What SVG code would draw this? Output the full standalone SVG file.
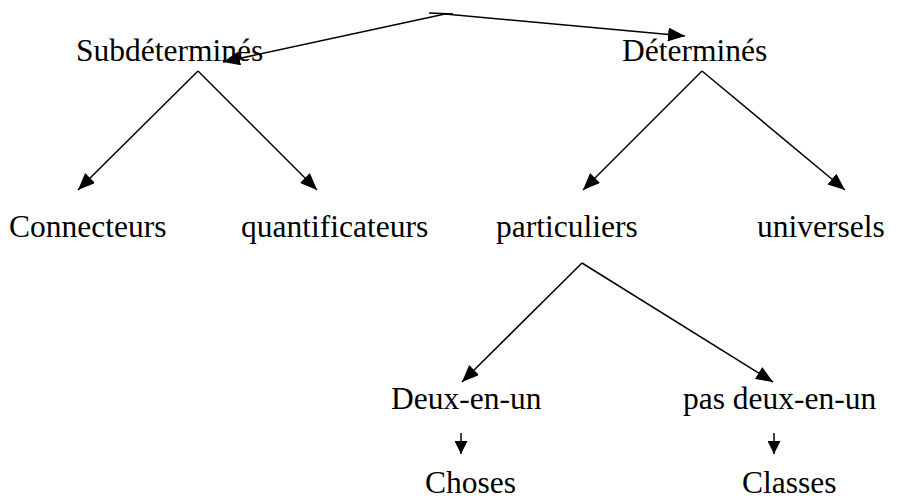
<svg xmlns="http://www.w3.org/2000/svg" width="898" height="500" viewBox="0 0 898 500">
<style>
text{font-family:"Liberation Serif","Times New Roman",serif;font-size:31.5px;fill:#000}
.c line{stroke:#000;stroke-width:1.5;fill:none}
</style>
<defs>
<marker id="ah" markerUnits="userSpaceOnUse" markerWidth="17" markerHeight="14" refX="17" refY="7" orient="auto"><path d="M0,0 L17,7 L0,14 Z" fill="#000"/></marker>
<marker id="as" markerUnits="userSpaceOnUse" markerWidth="13" markerHeight="13" refX="13" refY="6.5" orient="auto"><path d="M0,0 L13,6.5 L0,13 Z" fill="#000"/></marker>
</defs>
<rect width="898" height="500" fill="#fff"/>
<g class="c" id="connectors">
<line x1="429" y1="13" x2="453" y2="14"/>
<line x1="445" y1="14" x2="223" y2="62" marker-end="url(#ah)"/>
<line x1="445" y1="14" x2="685" y2="36" marker-end="url(#ah)"/>
<line x1="198" y1="71" x2="78" y2="190" marker-end="url(#ah)"/>
<line x1="198" y1="71" x2="317" y2="190" marker-end="url(#ah)"/>
<line x1="702" y1="71" x2="583" y2="190" marker-end="url(#ah)"/>
<line x1="702" y1="71" x2="845" y2="190" marker-end="url(#ah)"/>
<line x1="582" y1="263" x2="462" y2="382" marker-end="url(#ah)"/>
<line x1="582" y1="263" x2="773" y2="382" marker-end="url(#ah)"/>
<line x1="461" y1="433" x2="461" y2="454" marker-end="url(#as)"/>
<line x1="774" y1="433" x2="774" y2="454" marker-end="url(#as)"/>
</g>
<g id="subdetermines"><text x="76" y="61">Subdéterminés</text></g>
<g id="determines"><text x="622" y="61">Déterminés</text></g>
<g id="connecteurs"><text x="9" y="237">Connecteurs</text></g>
<g id="quantificateurs"><text x="241" y="237">quantificateurs</text></g>
<g id="particuliers"><text x="496" y="237">particuliers</text></g>
<g id="universels"><text x="757" y="237">universels</text></g>
<g id="deux-en-un"><text x="391" y="409">Deux-en-un</text></g>
<g id="pas-deux-en-un"><text x="683" y="409">pas deux-en-un</text></g>
<g id="choses"><text x="425" y="493">Choses</text></g>
<g id="classes"><text x="742" y="493">Classes</text></g>
</svg>
